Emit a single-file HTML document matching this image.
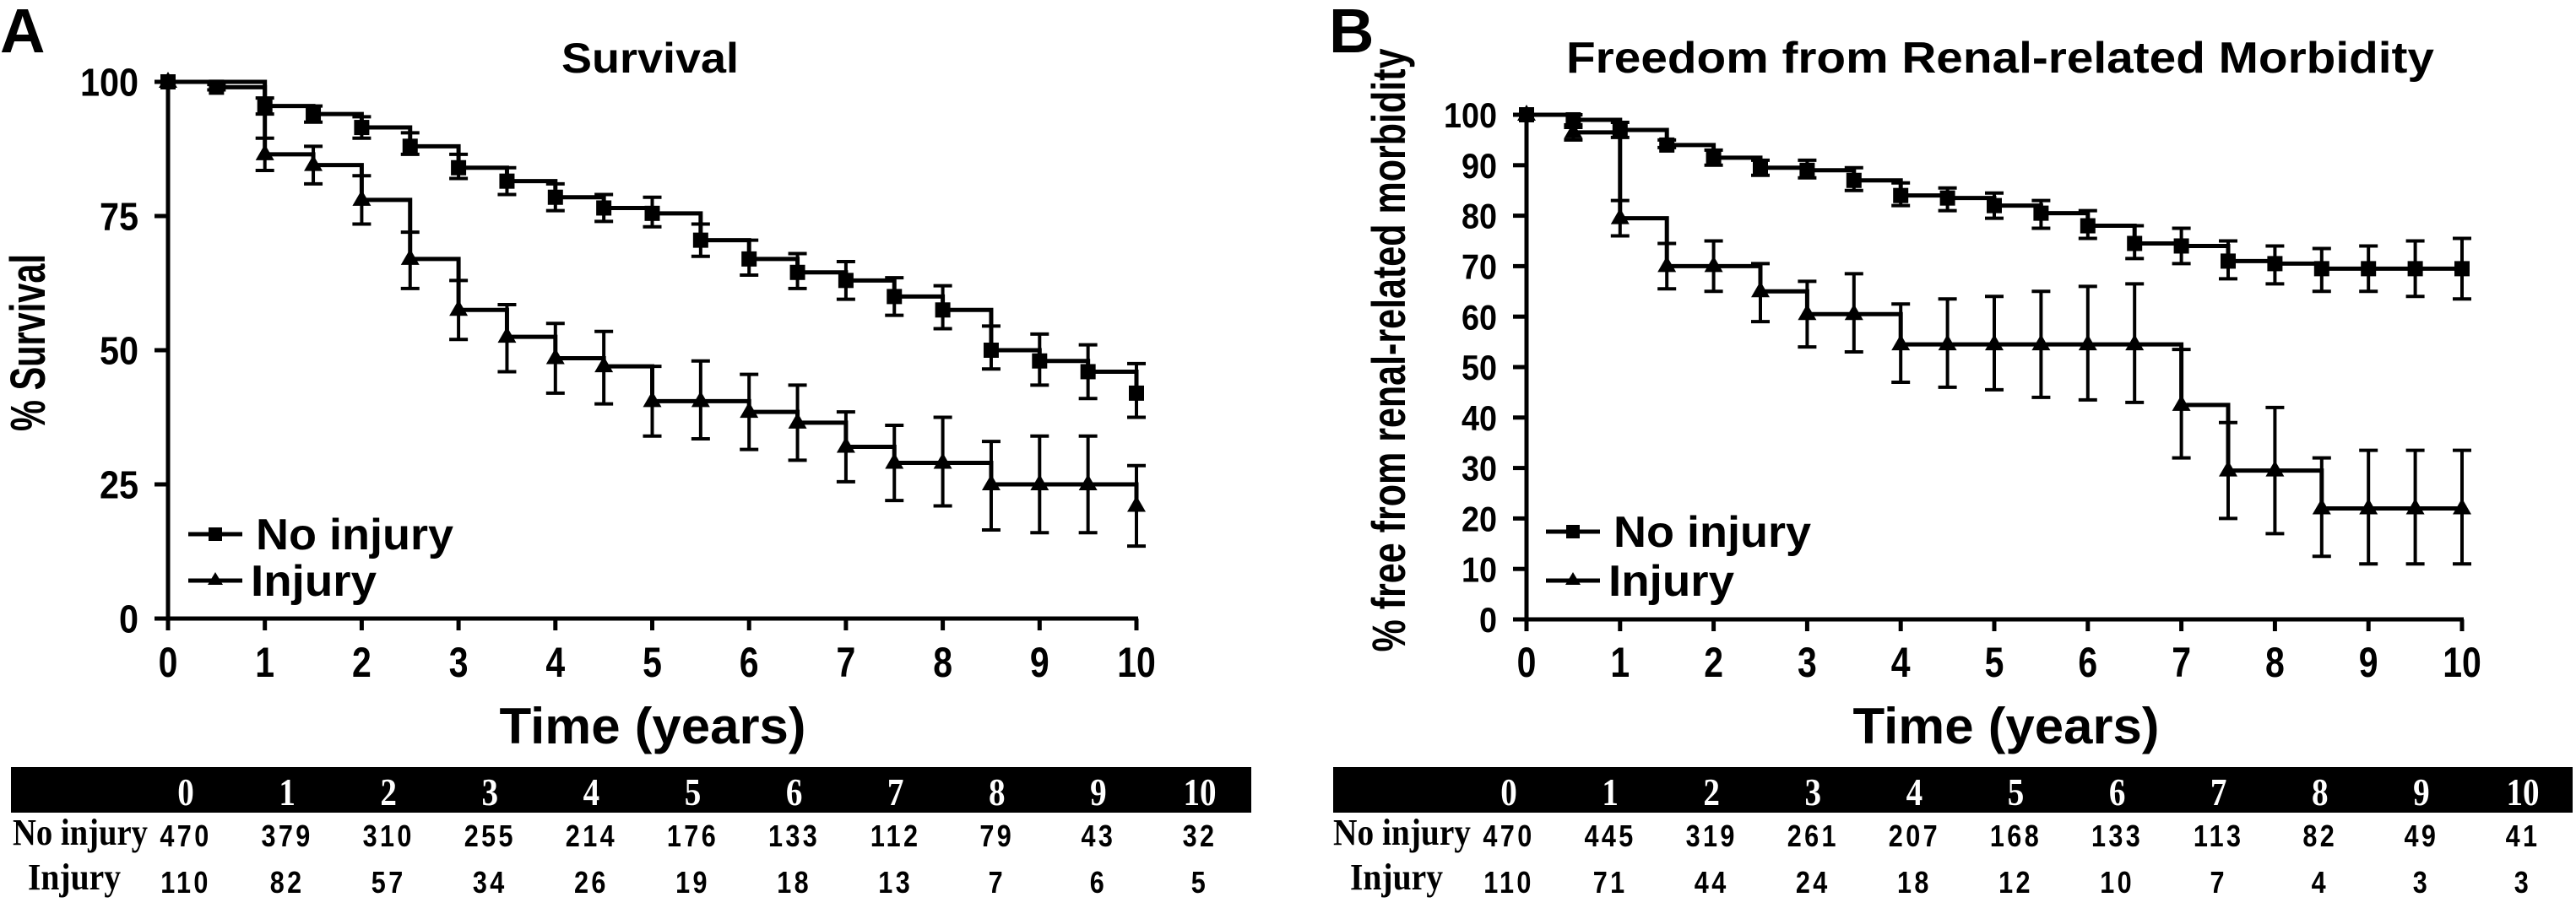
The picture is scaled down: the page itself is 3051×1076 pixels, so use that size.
<!DOCTYPE html>
<html><head><meta charset="utf-8"><style>
html,body{margin:0;padding:0;background:#fff;}
svg{display:block;}
text{font-family:"Liberation Sans",Arial,sans-serif;font-weight:bold;fill:#000;}
.serif{font-family:"Liberation Serif","Times New Roman",serif;}
</style></head><body>
<svg id="fig" width="3051" height="1076" viewBox="0 0 3051 1076" xmlns="http://www.w3.org/2000/svg">
<rect width="3051" height="1076" fill="#fff"/>
<g id="panelA"></g>
<g id="panelB"></g>
</svg>
<script>
// ---- Panel A data (Survival) ----
const tA_no  = [0,0.5,1,1.5,2,2.5,3,3.5,4,4.5,5,5.5,6,6.5,7,7.5,8,8.5,9,9.5,10];
const vA_no  = [100,99,95.5,94,91.5,88,84,81.5,78.5,76.5,75.5,70.5,67,64.5,63,60,57.5,50,48,46,42];
const loA_no = [100,98.5,94,92.5,89.5,86.5,82,79,76,74,73,67.5,64,61.5,59.5,56.5,54,46.5,43.5,41,37.5];
const hiA_no = [100,99.5,97,95.5,93.5,90.5,86.5,84,81,79,78.5,73.5,70.5,68,66.5,63.5,62,54.5,53,51,47.5];
const tA_inj  = [0,1,1.5,2,2.5,3,3.5,4,4.5,5,5.5,6,6.5,7,7.5,8,8.5,9,9.5,10];
const vA_inj  = [100,86.5,84.5,78,67,57.5,52.5,48.5,47,40.5,40.5,38.5,36.5,32,29,29,25,25,25,21];
const loA_inj = [100,83.5,81,73.5,61.5,52,46,42,40,34,33.5,31.5,29.5,25.5,22,21,16.5,16,16,13.5];
const hiA_inj = [100,89.5,88,82.5,72,63,58.5,55,53.5,47,48,45.5,43.5,38.5,36,37.5,33,34,34,28.5];
const yTicksA = [0,25,50,75,100];
const xTicks = [0,1,2,3,4,5,6,7,8,9,10];
const riskA_no  = [470,379,310,255,214,176,133,112,79,43,32];
const riskA_inj = [110,82,57,34,26,19,18,13,7,6,5];

// ---- Panel B data (Freedom from renal-related morbidity) ----
const tB_no  = [0,0.5,1,1.5,2,2.5,3,3.5,4,4.5,5,5.5,6,6.5,7,7.5,8,8.5,9,9.5,10];
const vB_no  = [100,99,97,94,91.5,89.5,89,87,84,83.5,82,80.5,78,74.5,74,71,70.5,69.5,69.5,69.5,69.5];
const loB_no = [100,97.5,95.5,93.5,90,88,87.5,85,82,81,79.5,77.5,75.5,71.5,70.5,67.5,66.5,65,65,64,63.5];
const hiB_no = [100,100,98.5,95,93,91,91,89.5,86.5,85.5,84.5,83,81,78,77.5,75,74,73.5,74,75,75.5];
const tB_inj  = [0,0.5,1,1.5,2,2.5,3,3.5,4,4.5,5,5.5,6,6.5,7,7.5,8,8.5,9,9.5,10];
const vB_inj  = [100,96.5,79.5,70,70,65,60.5,60.5,54.5,54.5,54.5,54.5,54.5,54.5,42.5,29.5,29.5,22,22,22,22];
const loB_inj = [100,95,76,65.5,65,59,54,53,47,46,45.5,44,43.5,43,32,20,17,12.5,11,11,11];
const hiB_inj = [100,98,83,74.5,75,70.5,67,68.5,62.5,63.5,64,65,66,66.5,53.5,39,42,32,33.5,33.5,33.5];
const yTicksB = [0,10,20,30,40,50,60,70,80,90,100];
const riskB_no  = [470,445,319,261,207,168,133,113,82,49,41];
const riskB_inj = [110,71,44,24,18,12,10,7,4,3,3];

const NS = "http://www.w3.org/2000/svg";
function mk(parent, tag, attrs, txt){
  const e = document.createElementNS(NS, tag);
  for (const k in attrs) e.setAttribute(k, attrs[k]);
  if (txt !== undefined) e.textContent = txt;
  parent.appendChild(e);
  return e;
}

function drawPanel(g, P){
  const X = t => P.x0 + (P.x1 - P.x0) * t / 10;
  const Y = v => P.y0 - (P.y0 - P.y100) * v / 100;

  let e = mk(g,'text',{x:P.letterX,y:62,'font-size':74}, P.letter);
  
  
  e = mk(g,'text',{x:P.titleX,y:86,'font-size':P.titleSize,textLength:P.titleLen,lengthAdjust:'spacingAndGlyphs'}, P.title);
  
  
  e = mk(g,'text',{x:0,y:0,'font-size':P.yTitleSize,'text-anchor':'middle',textLength:P.yTitleLen,lengthAdjust:'spacingAndGlyphs',transform:`translate(${P.yTitleX},${P.yTitleY}) rotate(-90)`}, P.yTitle);
  
  
  e = mk(g,'text',{x:P.xTitleX,y:881,'font-size':60,'text-anchor':'middle',textLength:363,lengthAdjust:'spacingAndGlyphs'}, 'Time (years)');
  
  

  const ax = mk(g,'g',{stroke:'#000','stroke-width':5,fill:'none'});
  
  
  mk(ax,'line',{x1:X(0),y1:Y(100)-2,x2:X(0),y2:Y(0)+14});
  mk(ax,'line',{x1:X(0),y1:Y(0),x2:X(10)+2,y2:Y(0)});
  P.yTicks.forEach(v=>{
    const t = mk(ax,'line',{x1:X(0)-16,y1:Y(v),x2:X(0),y2:Y(v)});
    
    
    const l = mk(g,'text',{x:0,y:0,'font-size':P.yLabSize,'text-anchor':'end',transform:`translate(${X(0)-35},${Y(v)+P.yLabSize*0.36}) scale(0.9,1)`}, String(v));
    
    
  });
  xTicks.forEach(v=>{
    const t = mk(ax,'line',{x1:X(v),y1:Y(0),x2:X(v),y2:Y(0)+14});
    
    
    const l = mk(g,'text',{x:0,y:0,'font-size':50,'text-anchor':'middle',transform:`translate(${X(v)},802) scale(0.82,1)`}, String(v));
    
    
  });

  P.series.forEach(s=>{
    const sg = mk(g,'g',{});
    
    
    let d = `M${X(s.t[0])},${Y(s.v[0])}`;
    for (let i=1;i<s.t.length;i++) d += ` H${X(s.t[i])} V${Y(s.v[i])}`;
    const p = mk(sg,'path',{d:d,stroke:'#000','stroke-width':5,fill:'none','stroke-linejoin':'miter'});
    
    
    for (let i=0;i<s.t.length;i++){
      const x = X(s.t[i]);
      if (s.lo[i] !== s.hi[i]){
        const eb = mk(sg,'path',{d:`M${x},${Y(s.lo[i])} V${Y(s.hi[i])} M${x-11},${Y(s.lo[i])} H${x+11} M${x-11},${Y(s.hi[i])} H${x+11}`,stroke:'#000','stroke-width':4,fill:'none'});
        
        
      }
      const y = Y(s.v[i]);
      let m;
      if (s.marker==='square') m = mk(sg,'rect',{x:x-9,y:y-9,width:18,height:18,fill:'#000'});
      else m = mk(sg,'polygon',{points:`${x},${y-12} ${x+11},${y+7} ${x-11},${y+7}`,fill:'#000'});
      
      
    }
  });

  const lg = mk(g,'g',{});
  
  
  const L = [{lbl:'No injury',y:P.legY1,m:'square',len:234},{lbl:'Injury',y:P.legY2,m:'tri',len:149}];
  L.forEach(it=>{
    const eg = mk(lg,'g',{});
    
    
    mk(eg,'line',{x1:P.legX,y1:it.y,x2:P.legX+64,y2:it.y,stroke:'#000','stroke-width':5});
    const cx = P.legX+32;
    if (it.m==='square') mk(eg,'rect',{x:cx-8,y:it.y-8,width:16,height:16,fill:'#000'});
    else mk(eg,'polygon',{points:`${cx},${it.y-10} ${cx+9},${it.y+5} ${cx-9},${it.y+5}`,fill:'#000'});
    mk(eg,'text',{x:P.legX+(it.m==='square'?80:74),y:it.y+18,'font-size':52,textLength:it.len,lengthAdjust:'spacingAndGlyphs'}, it.lbl);
  });

  const tb = mk(g,'g',{});
  
  
  mk(tb,'rect',{x:P.barX0,y:909,width:P.barX1-P.barX0,height:54,fill:'#000'});
  xTicks.forEach((v,i)=>{
    const cx = P.col0 + 120.1*i;
    const h = mk(tb,'text',{x:0,y:0,'font-size':46,'text-anchor':'middle',class:'serif',style:'fill:#fff',transform:`translate(${cx},954) scale(0.85,1)`}, String(v));
    
    
    const a = mk(tb,'text',{x:0,y:0,'font-size':36,'text-anchor':'middle','letter-spacing':4,transform:`translate(${cx},1003) scale(0.85,1)`}, String(P.riskNo[i]));
    
    
    const b = mk(tb,'text',{x:0,y:0,'font-size':36,'text-anchor':'middle','letter-spacing':4,transform:`translate(${cx},1058) scale(0.85,1)`}, String(P.riskInj[i]));
    
    
  });
  let rl = mk(tb,'text',{x:P.rowLab1X,y:1001,'font-size':44,class:'serif',textLength:P.rowLab1Len,lengthAdjust:'spacingAndGlyphs'}, 'No injury');
  
  
  rl = mk(tb,'text',{x:P.rowLab2X,y:1054,'font-size':44,class:'serif',textLength:110,lengthAdjust:'spacingAndGlyphs'}, 'Injury');
  
  
}

drawPanel(document.getElementById('panelA'), {
  x0:199, x1:1346, y0:733, y100:97, letter:'A', letterX:0,
  title:'Survival', titleX:665, titleLen:210, titleSize:50,
  yTitle:'% Survival', yTitleX:53, yTitleY:406, yTitleLen:210, yTitleSize:58,
  xTitleX:773, yTicks:yTicksA, yLabSize:46,
  series:[
    {name:'no-injury-series', t:tA_no, v:vA_no, lo:loA_no, hi:hiA_no, marker:'square'},
    {name:'injury-series', t:tA_inj, v:vA_inj, lo:loA_inj, hi:hiA_inj, marker:'tri'}
  ],
  legX:223, legY1:633, legY2:688,
  barX0:13, barX1:1482, col0:220, riskNo:riskA_no, riskInj:riskA_inj,
  rowLab1X:15, rowLab1Len:160, rowLab2X:33
});
drawPanel(document.getElementById('panelB'), {
  x0:1808, x1:2916, y0:734, y100:136, letter:'B', letterX:1574,
  title:'Freedom from Renal-related Morbidity', titleX:1855, titleLen:1028, titleSize:52,
  yTitle:'% free from renal-related morbidity', yTitleX:1664, yTitleY:415, yTitleLen:715, yTitleSize:56,
  xTitleX:2376, yTicks:yTicksB, yLabSize:42,
  series:[
    {name:'no-injury-series', t:tB_no, v:vB_no, lo:loB_no, hi:hiB_no, marker:'square'},
    {name:'injury-series', t:tB_inj, v:vB_inj, lo:loB_inj, hi:hiB_inj, marker:'tri'}
  ],
  legX:1831, legY1:630, legY2:688,
  barX0:1579, barX1:3047, col0:1787, riskNo:riskB_no, riskInj:riskB_inj,
  rowLab1X:1579, rowLab1Len:163, rowLab2X:1599
});
</script>
</body></html>
